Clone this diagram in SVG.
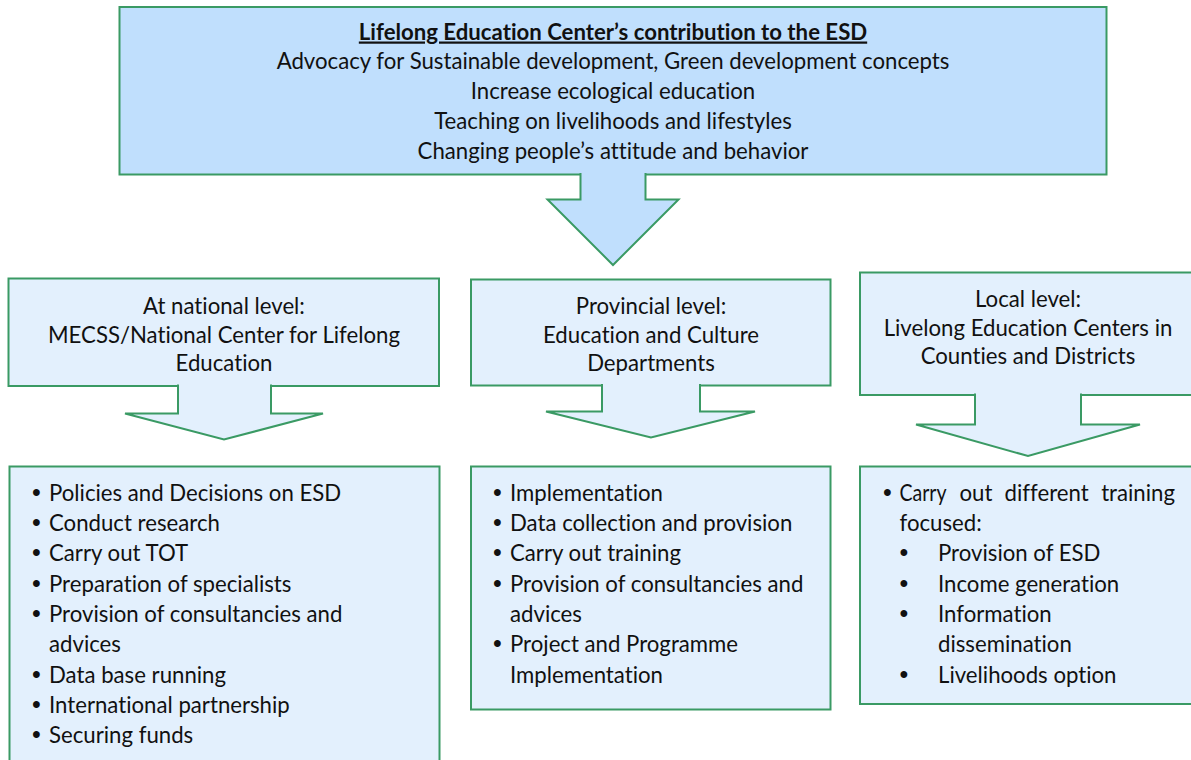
<svg xmlns="http://www.w3.org/2000/svg" width="1191" height="760" viewBox="0 0 1191 760">
  <style>
    .box { stroke: #3a9a64; stroke-width: 2; }
    .main { fill: #c0dffd; }
    .pale { fill: #e3f0fd; }
    .arrow { stroke: #3a9a64; stroke-width: 2; stroke-linejoin: miter; }
    text { font-family: Lato, "Open Sans", "Liberation Sans", sans-serif; font-size: 22.2px; fill: #111111;
           font-variant-ligatures: none; font-feature-settings: "liga" 0, "clig" 0; }
    .c { text-anchor: middle; }
    .title { font-weight: bold; text-decoration: underline; }
    .dot { font-family: "Liberation Sans", Arial, sans-serif; font-size: 25px; text-anchor: middle; }
  </style>

  <rect width="1191" height="760" fill="#ffffff"/>

  <!-- top: the centre's overall contribution -->
  <g id="node-esd">
    <rect class="box main" x="119.5" y="7" width="987" height="167.5"/>
    <text class="c title" x="613" y="39.5">Lifelong Education Center’s contribution to the ESD</text>
    <text class="c" x="613" y="69.3">Advocacy for Sustainable development, Green development concepts</text>
    <text class="c" x="613" y="99.1">Increase ecological education</text>
    <text class="c" x="613" y="128.9">Teaching on livelihoods and lifestyles</text>
    <text class="c" x="613" y="158.7">Changing people’s attitude and behavior</text>
  </g>

  <!-- level headers -->
  <g id="node-national">
    <rect class="box pale" x="8.5" y="278.5" width="430.5" height="107.5"/>
    <text class="c" x="224" y="313.5">At national level:</text>
    <text class="c" x="224" y="342.5">MECSS/National Center for Lifelong</text>
    <text class="c" x="224" y="371">Education</text>
  </g>

  <g id="node-provincial">
    <rect class="box pale" x="471" y="279.5" width="359.5" height="106"/>
    <text class="c" x="651" y="313.5">Provincial level:</text>
    <text class="c" x="651" y="342.5">Education and Culture</text>
    <text class="c" x="651" y="371">Departments</text>
  </g>

  <g id="node-local">
    <rect class="box pale" x="860" y="272.5" width="340" height="122.5"/>
    <text class="c" x="1028" y="306.5">Local level:</text>
    <text class="c" x="1028" y="335.5">Livelong Education Centers in</text>
    <text class="c" x="1028" y="364">Counties and Districts</text>
  </g>

  <!-- task lists -->
  <g id="node-national-tasks">
    <rect class="box pale" x="9.5" y="466.5" width="430" height="320"/>
    <text class="dot" x="36.5" y="500.7">•</text>
    <text class="dot" x="36.5" y="531">•</text>
    <text class="dot" x="36.5" y="561.3">•</text>
    <text class="dot" x="36.5" y="591.7">•</text>
    <text class="dot" x="36.5" y="622">•</text>
    <text class="dot" x="36.5" y="682.7">•</text>
    <text class="dot" x="36.5" y="713">•</text>
    <text class="dot" x="36.5" y="743.3">•</text>
    <text x="49" y="500.7">Policies and Decisions on ESD</text>
    <text x="49" y="531">Conduct research</text>
    <text x="49" y="561.3">Carry out TOT</text>
    <text x="49" y="591.7">Preparation of specialists</text>
    <text x="49" y="622">Provision of consultancies and</text>
    <text x="49" y="652.3">advices</text>
    <text x="49" y="682.7">Data base running</text>
    <text x="49" y="713">International partnership</text>
    <text x="49" y="743.3">Securing funds</text>
  </g>

  <g id="node-provincial-tasks">
    <rect class="box pale" x="471" y="466.5" width="359.5" height="243"/>
    <text class="dot" x="497.5" y="500.7">•</text>
    <text class="dot" x="497.5" y="531">•</text>
    <text class="dot" x="497.5" y="561.3">•</text>
    <text class="dot" x="497.5" y="591.7">•</text>
    <text class="dot" x="497.5" y="652.3">•</text>
    <text x="510" y="500.7">Implementation</text>
    <text x="510" y="531">Data collection and provision</text>
    <text x="510" y="561.3">Carry out training</text>
    <text x="510" y="591.7">Provision of consultancies and</text>
    <text x="510" y="622">advices</text>
    <text x="510" y="652.3">Project and Programme</text>
    <text x="510" y="682.7">Implementation</text>
  </g>

  <g id="node-local-tasks">
    <rect class="box pale" x="860" y="466.5" width="340" height="237.5"/>
    <text class="dot" x="887.3" y="500.7">•</text>
    <!-- justified first line: each word placed on its own -->
    <text x="899.5" y="500.7" textLength="47" lengthAdjust="spacingAndGlyphs">Carry</text>
    <text x="959.5" y="500.7">out</text>
    <text x="1004.5" y="500.7">different</text>
    <text x="1175" y="500.7" text-anchor="end">training</text>
    <text x="899.5" y="531">focused:</text>
    <text class="dot" x="904" y="561.3">•</text>
    <text class="dot" x="904" y="591.7">•</text>
    <text class="dot" x="904" y="622">•</text>
    <text class="dot" x="904" y="682.7">•</text>
    <text x="938" y="561.3">Provision of ESD</text>
    <text x="938" y="591.7">Income generation</text>
    <text x="938" y="622">Information</text>
    <text x="938" y="652.3">dissemination</text>
    <text x="938" y="682.7">Livelihoods option</text>
  </g>

  <!-- block arrows leading down from each box -->
  <g id="connectors">
    <path class="arrow main" d="M580.5,173 V199.5 H547.5 L613,265 L678.5,199.5 H645.5 V173"/>
    <path class="arrow pale" d="M178,384.5 V413.5 H125 L224,439.5 L323,413.5 H271 V384.5"/>
    <path class="arrow pale" d="M602,384 V411.5 H546 L651,437.5 L755,411.5 H700 V384"/>
    <path class="arrow pale" d="M975,393.5 V424.5 H916 L1028,456 L1140,424.5 H1081 V393.5"/>
  </g>
</svg>
